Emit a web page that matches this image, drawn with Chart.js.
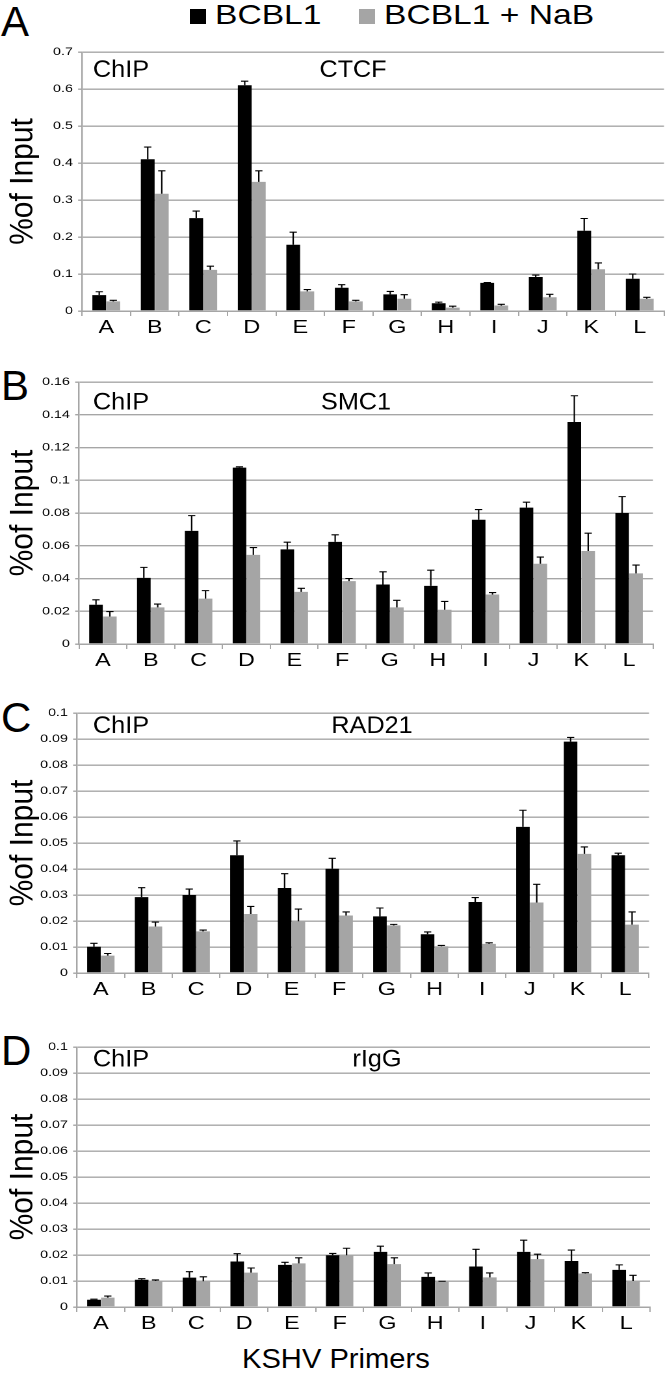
<!DOCTYPE html>
<html>
<head>
<meta charset="utf-8">
<script src="https://cdn.jsdelivr.net/npm/chart.js"></script>
<style>
  body { margin: 0; background: #fff; }
  #page { position: relative; width: 666px; height: 1373px; overflow: hidden; font-family: "Liberation Sans", Arial, sans-serif; color: #000; }
  .letter { position: absolute; left: 1px; font-size: 42px; line-height: 1; }
  /* the original figure is stretched sideways, so each chart is drawn narrow and widened */
  .panel { position: absolute; left: 0; width: 512.3px; transform: scaleX(1.3); transform-origin: 0 0; }
  .key { position: absolute; top: 9px; width: 16px; height: 15px; }
  .keytext { position: absolute; top: 1px; font-size: 28px; line-height: 1; white-space: nowrap; transform: scaleX(1.2); transform-origin: 0 0; }
  .xtitle { position: absolute; top: 1345px; left: 242px; font-size: 28px; line-height: 1; white-space: nowrap; transform: scaleX(1.04); transform-origin: 0 0; }
</style>
</head>
<body>
<div id="page">
  <div class="letter" style="top:1px">A</div>
  <div class="key" style="left:190px;background:#000"></div>
  <div class="keytext" style="left:215px">BCBL1</div>
  <div class="key" style="left:359px;background:#a5a5a5"></div>
  <div class="keytext" style="left:384px">BCBL1 + NaB</div>
  <div class="letter" style="top:365px">B</div>
  <div class="letter" style="top:697px">C</div>
  <div class="letter" style="top:1030px">D</div>

  <div class="panel" style="top:40px;height:304px"><canvas id="chartA"></canvas></div>
  <div class="panel" style="top:370px;height:307px"><canvas id="chartB"></canvas></div>
  <div class="panel" style="top:701px;height:305px"><canvas id="chartC"></canvas></div>
  <div class="panel" style="top:1035px;height:305px"><canvas id="chartD"></canvas></div>
  <div class="xtitle">KSHV Primers</div>
</div>
<script>
// primers on the KSHV genome
const primers = ["A", "B", "C", "D", "E", "F", "G", "H", "I", "J", "K", "L"];

// A: CTCF
const ctcfBCBL1    = [0.043, 0.410, 0.251, 0.610, 0.179, 0.063, 0.045, 0.021, 0.076, 0.092, 0.217, 0.087];
const ctcfBCBL1Err = [0.009, 0.033, 0.019, 0.011, 0.034, 0.008, 0.008, 0.003, 0.001, 0.005, 0.033, 0.013];
const ctcfNaB      = [0.026, 0.317, 0.111, 0.349, 0.053, 0.026, 0.033, 0.009, 0.015, 0.037, 0.113, 0.033];
const ctcfNaBErr   = [0.003, 0.062, 0.010, 0.030, 0.005, 0.003, 0.011, 0.004, 0.003, 0.008, 0.017, 0.004];

// B: SMC1
const smc1BCBL1    = [0.0240, 0.0404, 0.0691, 0.1077, 0.0578, 0.0624, 0.0363, 0.0355, 0.0759, 0.0833, 0.1356, 0.0800];
const smc1BCBL1Err = [0.0030, 0.0064, 0.0093, 0.0005, 0.0044, 0.0043, 0.0078, 0.0096, 0.0062, 0.0033, 0.0160, 0.0100];
const smc1NaB      = [0.0168, 0.0224, 0.0277, 0.0544, 0.0318, 0.0384, 0.0224, 0.0209, 0.0302, 0.0490, 0.0568, 0.0431];
const smc1NaBErr   = [0.0030, 0.0020, 0.0049, 0.0045, 0.0022, 0.0016, 0.0043, 0.0051, 0.0012, 0.0041, 0.0109, 0.0051];

// C: RAD21
const rad21BCBL1    = [0.0101, 0.0292, 0.0300, 0.0453, 0.0327, 0.0401, 0.0218, 0.0149, 0.0273, 0.0562, 0.0890, 0.0453];
const rad21BCBL1Err = [0.0013, 0.0036, 0.0023, 0.0055, 0.0055, 0.0040, 0.0032, 0.0009, 0.0017, 0.0064, 0.0016, 0.0008];
const rad21NaB      = [0.0067, 0.0179, 0.0160, 0.0227, 0.0199, 0.0221, 0.0183, 0.0103, 0.0112, 0.0271, 0.0458, 0.0186];
const rad21NaBErr   = [0.0008, 0.0017, 0.0005, 0.0029, 0.0047, 0.0014, 0.0004, 0.0003, 0.0004, 0.0070, 0.0027, 0.0049];

// D: rIgG
const iggBCBL1    = [0.0028, 0.0105, 0.0113, 0.0175, 0.0162, 0.0199, 0.0212, 0.0116, 0.0156, 0.0212, 0.0177, 0.0143];
const iggBCBL1Err = [0.0002, 0.0004, 0.0023, 0.0030, 0.0010, 0.0007, 0.0022, 0.0015, 0.0066, 0.0045, 0.0042, 0.0019];
const iggNaB      = [0.0036, 0.0100, 0.0099, 0.0132, 0.0168, 0.0199, 0.0165, 0.0098, 0.0114, 0.0184, 0.0129, 0.0100];
const iggNaBErr   = [0.0006, 0.0004, 0.0017, 0.0018, 0.0021, 0.0027, 0.0024, 0.0001, 0.0017, 0.0019, 0.0003, 0.0022];

// y tick labels
const ticksA = ["0", "0.1", "0.2", "0.3", "0.4", "0.5", "0.6", "0.7"];
const ticksB = ["0", "0.02", "0.04", "0.06", "0.08", "0.1", "0.12", "0.14", "0.16"];
const ticksC = ["0", "0.01", "0.02", "0.03", "0.04", "0.05", "0.06", "0.07", "0.08", "0.09", "0.1"];
const ticksD = ["0", "0.01", "0.02", "0.03", "0.04", "0.05", "0.06", "0.07", "0.08", "0.09", "0.1"];

const FONT = '"Liberation Sans", Arial, sans-serif';
const GRID = "#a6a6a6";
const SX = 1.3; // sideways stretch of the panels

// upward error bars, black with a small cap
const errorBars = {
    id: "errorBars",
    afterDatasetsDraw(chart) {
        const ctx = chart.ctx;
        const yScale = chart.scales.y;
        ctx.save();
        ctx.strokeStyle = "#000";
        ctx.lineWidth = 1.1;
        chart.data.datasets.forEach((ds, di) => {
            const meta = chart.getDatasetMeta(di);
            meta.data.forEach((bar, i) => {
                const top = yScale.getPixelForValue(ds.data[i] + ds.errors[i]);
                ctx.beginPath();
                ctx.moveTo(bar.x, bar.y);
                ctx.lineTo(bar.x, top);
                ctx.moveTo(bar.x - 2.8, top);
                ctx.lineTo(bar.x + 2.8, top);
                ctx.stroke();
            });
        });
        ctx.restore();
    }
};

// text drawn with its own sideways factor instead of the panel stretch
function flatText(ctx, text, x, y, align, k, rotate) {
    ctx.save();
    ctx.translate(x, y);
    ctx.scale(k / SX, 1);
    if (rotate) ctx.rotate(-Math.PI / 2);
    ctx.textAlign = align;
    ctx.fillText(text, 0, 0);
    ctx.restore();
}

// "ChIP", the antibody name and the y axis title
const panelText = {
    id: "panelText",
    afterDraw(chart, args, opts) {
        const { ctx, chartArea } = chart;
        ctx.save();
        ctx.fillStyle = "#000";
        ctx.textBaseline = "middle";
        ctx.font = "24px " + FONT;
        flatText(ctx, "ChIP", 93 / SX, chartArea.top + opts.dy, "left", 1.05, false);
        flatText(ctx, opts.name, opts.nameX / SX, chartArea.top + opts.dy, "center", 1.05, false);
        ctx.font = "30px " + FONT;
        flatText(ctx, "%of Input", 23.5 / SX, (chartArea.top + chartArea.bottom) / 2, "center", 1.1, true);
        ctx.restore();
    }
};

function makeChart(id, cfg) {
    new Chart(document.getElementById(id), {
        type: "bar",
        data: {
            labels: primers,
            datasets: [
                { label: "BCBL1", data: cfg.black, errors: cfg.blackErr, backgroundColor: "#000" },
                { label: "BCBL1 + NaB", data: cfg.gray, errors: cfg.grayErr, backgroundColor: "#a5a5a5" }
            ]
        },
        options: {
            responsive: true,
            maintainAspectRatio: false,
            animation: false,
            devicePixelRatio: 2,
            datasets: { bar: { categoryPercentage: 0.58, barPercentage: 0.98 } },
            layout: { padding: { top: 12, right: cfg.right / SX, left: 0, bottom: 0 } },
            plugins: {
                legend: { display: false },
                tooltip: { enabled: false },
                panelText: { name: cfg.name, nameX: cfg.nameX, dy: cfg.dy }
            },
            scales: {
                x: {
                    grid: { offset: true, drawOnChartArea: false, color: GRID, tickLength: 5, lineWidth: 1 },
                    border: { color: GRID, width: 1.5 },
                    ticks: { color: "#000", font: { family: FONT, size: 18 }, padding: 1 },
                    afterFit(scale) { scale.height = 33; }
                },
                y: {
                    min: 0,
                    max: cfg.max,
                    ticks: {
                        stepSize: cfg.step,
                        color: "#000",
                        font: { family: FONT, size: 11 },
                        padding: 4,
                        callback: (v, i) => cfg.ticks[i]
                    },
                    grid: { color: GRID, lineWidth: 1.4, tickLength: 3 },
                    border: { color: GRID, width: 1.2 },
                    afterFit(scale) { scale.width = cfg.left / SX; }
                }
            }
        },
        plugins: [errorBars, panelText]
    });
}

makeChart("chartA", { black: ctcfBCBL1, blackErr: ctcfBCBL1Err, gray: ctcfNaB, grayErr: ctcfNaBErr,
    max: 0.7, step: 0.1, ticks: ticksA, name: "CTCF", nameX: 353, dy: 18.5, left: 82, right: 2 });
makeChart("chartB", { black: smc1BCBL1, blackErr: smc1BCBL1Err, gray: smc1NaB, grayErr: smc1NaBErr,
    max: 0.16, step: 0.02, ticks: ticksB, name: "SMC1", nameX: 356, dy: 21, left: 79, right: 13 });
makeChart("chartC", { black: rad21BCBL1, blackErr: rad21BCBL1Err, gray: rad21NaB, grayErr: rad21NaBErr,
    max: 0.1, step: 0.01, ticks: ticksC, name: "RAD21", nameX: 372, dy: 13.5, left: 77, right: 17 });
makeChart("chartD", { black: iggBCBL1, blackErr: iggBCBL1Err, gray: iggNaB, grayErr: iggNaBErr,
    max: 0.1, step: 0.01, ticks: ticksD, name: "rIgG", nameX: 377, dy: 13, left: 77, right: 16 });
</script>
</body>
</html>
